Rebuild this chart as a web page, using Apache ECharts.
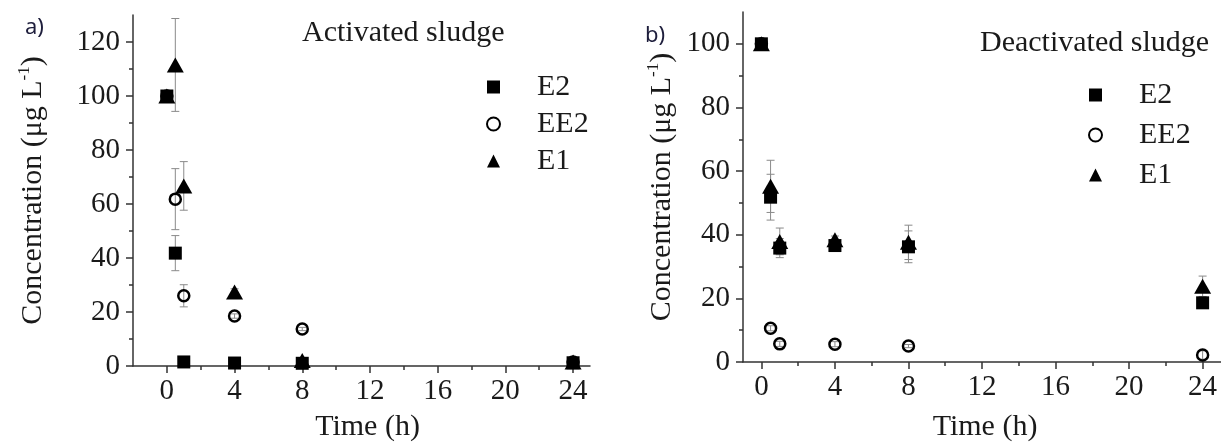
<!DOCTYPE html>
<html>
<head>
<meta charset="utf-8">
<script src="https://cdn.jsdelivr.net/npm/echarts@6/dist/echarts.min.js"></script>
<style>html,body{margin:0;padding:0;background:#fff;}#c{width:1221px;height:447px;}</style>
</head>
<body>
<div id="c"></div>
<script>
// ---- data ----
var times = [0, 0.5, 1, 4, 8, 24];
// Panel a: activated sludge
var aE2 = [100, 41.8, 1.5, 1.1, 1.0, 1.2];
var aEE2 = [100, 61.8, 26.0, 18.5, 13.7, 1.5];
var aE1 = [100, 111.5, 66.7, 27.4, 2.0, 1.5];
var aE2Err = [1, 6.5, 0.5, 0.3, 0.3, 0.3];
var aEE2Err = [1, 11.3, 4.1, 0.8, 0.6, 0.3];
var aE1Err = [1, 17.2, 9.0, 1.2, 0.5, 0.3];
// Panel b: deactivated sludge
var bE2 = [100, 51.8, 35.8, 36.6, 36.2, 18.6];
var bEE2 = [100, 10.6, 5.7, 5.6, 5.0, 2.2];
var bE1 = [100, 55.2, 37.9, 38.4, 37.6, 23.8];
var bE2Err = [0.5, 7.2, 3.0, 1.0, 5.0, 1.0];
var bEE2Err = [0.5, 0.8, 0.8, 0.8, 0.5, 1.3];
var bE1Err = [0.5, 8.2, 4.2, 1.2, 5.4, 3.2];
// ticks
var xMajor = [0, 4, 8, 12, 16, 20, 24];
var xMinor = [2, 6, 10, 14, 18, 22];
var yMajorA = [0, 20, 40, 60, 80, 100, 120];
var yMinorA = [10, 30, 50, 70, 90, 110];
var yMajorB = [0, 20, 40, 60, 80, 100];
var yMinorB = [10, 30, 50, 70, 90];

var SERIF = "'Liberation Serif','DejaVu Serif',serif";
var AX = '#333';
var TXT = '#1a1a1a';

function pts(xs, ys) { return xs.map(function (x, i) { return [x, ys[i]]; }); }
function errs(xs, ys, es) { return xs.map(function (x, i) { return [x, ys[i] - es[i], ys[i] + es[i]]; }); }

function errSeries(data, xi, yi) {
  return {
    type: 'custom', xAxisIndex: xi, yAxisIndex: yi, z: 1, silent: true,
    data: data,
    renderItem: function (params, api) {
      var x = api.value(0);
      var lo = api.coord([x, api.value(1)]);
      var hi = api.coord([x, api.value(2)]);
      var w = 4;
      var st = { stroke: '#8a8a8a', lineWidth: 1 };
      return { type: 'group', children: [
        { type: 'line', shape: { x1: lo[0], y1: lo[1], x2: hi[0], y2: hi[1] }, style: st },
        { type: 'line', shape: { x1: lo[0] - w, y1: lo[1], x2: lo[0] + w, y2: lo[1] }, style: st },
        { type: 'line', shape: { x1: hi[0] - w, y1: hi[1], x2: hi[0] + w, y2: hi[1] }, style: st }
      ] };
    }
  };
}

function markSeries(name, data, xi, yi) {
  var s = { type: 'scatter', name: name, xAxisIndex: xi, yAxisIndex: yi, data: data, z: 3 };
  if (name === 'E2') { s.symbol = 'rect'; s.symbolSize = 13; s.itemStyle = { color: '#000', opacity: 1 }; }
  if (name === 'EE2') { s.symbol = 'circle'; s.symbolSize = 11; s.itemStyle = { color: 'rgba(255,255,255,0)', borderColor: '#000', borderWidth: 2.5, opacity: 1 }; s.z = 4; }
  if (name === 'E1') { s.symbol = 'triangle'; s.symbolSize = [17, 15]; s.itemStyle = { color: '#000', opacity: 1 }; s.z = 5; }
  return s;
}

function xAxes(gi, min, max, nameGap) {
  return [
    { type: 'value', gridIndex: gi, min: min, max: max, position: 'bottom',
      name: 'Time (h)', nameLocation: 'middle', nameGap: nameGap,
      nameTextStyle: { fontFamily: SERIF, fontSize: 30, color: TXT, padding: gi === 0 ? [0, 0, 0, 12] : [0, 0, 0, 6] },
      axisLine: { onZero: false, lineStyle: { color: AX, width: 1.5 } },
      axisTick: { show: true, customValues: xMajor, length: 7, lineStyle: { color: AX, width: 1.5 } },
      axisLabel: { customValues: xMajor, fontFamily: SERIF, fontSize: 29, color: TXT, margin: 11 },
      splitLine: { show: false } },
    { type: 'value', gridIndex: gi, min: min, max: max, position: 'bottom',
      axisLine: { show: false, onZero: false },
      axisTick: { show: true, customValues: xMinor, length: 4, lineStyle: { color: AX, width: 1.5 } },
      axisLabel: { show: false }, splitLine: { show: false } }
  ];
}

function yAxes(gi, max, major, minor, nameGap) {
  return [
    { type: 'value', gridIndex: gi, min: 0, max: max, position: 'left',
      name: '{t|Concentration (μg L}{s|-1}{t|)}', nameLocation: 'middle', nameGap: nameGap,
      nameTextStyle: { fontFamily: SERIF, fontSize: 30, color: TXT,
        rich: { t: { fontFamily: SERIF, fontSize: 30, color: TXT, lineHeight: 34 },
                s: { fontFamily: SERIF, fontSize: 17, color: TXT, verticalAlign: 'top', lineHeight: 34 } } },
      axisLine: { onZero: false, lineStyle: { color: AX, width: 1.5 } },
      axisTick: { show: true, customValues: major, length: 7, lineStyle: { color: AX, width: 1.5 } },
      axisLabel: { customValues: major, fontFamily: SERIF, fontSize: 29, color: TXT, margin: 13 },
      splitLine: { show: false } },
    { type: 'value', gridIndex: gi, min: 0, max: max, position: 'left',
      axisLine: { show: false, onZero: false },
      axisTick: { show: true, customValues: minor, length: 4, lineStyle: { color: AX, width: 1.5 } },
      axisLabel: { show: false }, splitLine: { show: false } }
  ];
}

var legendBase = {
  orient: 'vertical', itemWidth: 13, itemHeight: 13, data: ['E2', 'EE2', 'E1'],
  selectedMode: false,
  textStyle: { fontFamily: SERIF, fontSize: 30, color: TXT, lineHeight: 30, padding: [0, 0, 0, 32] }
};

var option = {
  animation: false,
  backgroundColor: '#fff',
  grid: [
    { left: 133, top: 15, width: 457, height: 352 },
    { left: 743, top: 12, width: 480, height: 355 }
  ],
  xAxis: xAxes(0, -2, 25, 46).concat(xAxes(1, -1, 25, 50)),
  yAxis: yAxes(0, 130, yMajorA, yMinorA, 83).concat(yAxes(1, 110, yMajorB, yMinorB, 64)),
  title: [
    { text: 'Activated sludge', left: 302, top: 18, padding: 0,
      textStyle: { fontFamily: SERIF, fontSize: 30, fontWeight: 'normal', color: TXT } },
    { text: 'Deactivated sludge', left: 980, top: 28, padding: 0,
      textStyle: { fontFamily: SERIF, fontSize: 30, fontWeight: 'normal', color: TXT } }
  ],
  legend: [
    Object.assign({}, legendBase, { left: 481, top: 67, itemGap: 7 }),
    Object.assign({}, legendBase, { left: 1083, top: 75, itemGap: 10 })
  ],
  graphic: [
    { type: 'text', left: 25, top: 17, style: { text: 'a)', font: "22px 'Noto Sans', sans-serif", fill: '#1e1e3c' } },
    { type: 'text', left: 645, top: 25, style: { text: 'b)', font: "22px 'Noto Sans', sans-serif", fill: '#1e1e3c' } }
  ],
  series: [
    errSeries(errs(times, aE2, aE2Err), 0, 0),
    errSeries(errs(times, aEE2, aEE2Err), 0, 0),
    errSeries(errs(times, aE1, aE1Err), 0, 0),
    markSeries('E2', pts(times, aE2), 0, 0),
    markSeries('EE2', pts(times, aEE2), 0, 0),
    markSeries('E1', pts(times, aE1), 0, 0),
    errSeries(errs(times, bE2, bE2Err), 2, 2),
    errSeries(errs(times, bEE2, bEE2Err), 2, 2),
    errSeries(errs(times, bE1, bE1Err), 2, 2),
    markSeries('E2', pts(times, bE2), 2, 2),
    markSeries('EE2', pts(times, bEE2), 2, 2),
    markSeries('E1', pts(times, bE1), 2, 2)
  ]
};
var chart = echarts.init(document.getElementById('c'), null, { renderer: 'canvas' });
chart.setOption(option);
</script>
</body>
</html>
